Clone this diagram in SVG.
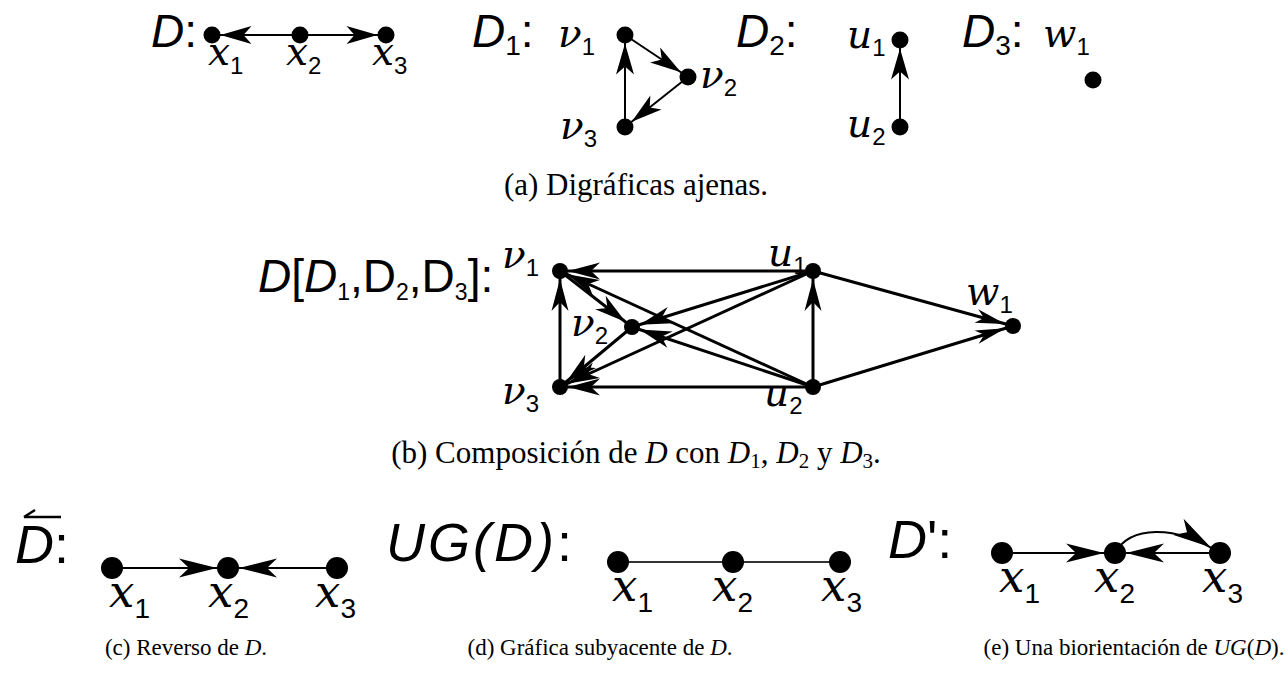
<svg xmlns="http://www.w3.org/2000/svg" width="1286" height="677" viewBox="0 0 1286 677">
<style>
.bg{fill:#fff}
.n{fill:#000}
.lbl{font-family:"DejaVu Serif","Liberation Serif",serif;font-style:italic;font-size:39px;fill:#000}
.lbl2{font-family:"DejaVu Serif","Liberation Serif",serif;font-style:italic;font-size:45px;fill:#000}
.sub{font-family:"Liberation Sans",Arial,sans-serif;font-style:normal;font-size:24px}
.sub2{font-family:"Liberation Sans",Arial,sans-serif;font-style:normal;font-size:28px}
.big{font-family:"Liberation Sans",Arial,sans-serif;font-size:46px;fill:#000}
.big2{font-family:"Liberation Sans",Arial,sans-serif;font-size:54px;fill:#000}
.it{font-style:italic}
.cap{font-family:"Liberation Serif","Times New Roman",serif;font-size:23px;fill:#000}
.capT{font-family:"Liberation Serif","Times New Roman",serif;font-size:31px;fill:#000}
.ea{stroke:#000;stroke-width:2;fill:none}
.eb{stroke:#000;stroke-width:3;fill:none}
.ec{stroke:#000;stroke-width:2;fill:none}
.ed{stroke:#333;stroke-width:2.2;fill:none}
</style>
<defs>
<marker id="ma" viewBox="-40 -12 54 24" markerWidth="54" markerHeight="24" refX="8.5" refY="0" orient="auto" markerUnits="userSpaceOnUse" overflow="visible"><path d="M0,0 L-31,-9 L-23,0 L-31,9 Z" fill="#000"/></marker>
<marker id="mb" viewBox="-40 -12 54 24" markerWidth="54" markerHeight="24" refX="8" refY="0" orient="auto" markerUnits="userSpaceOnUse" overflow="visible"><path d="M0,0 L-32,-8.5 L-23,0 L-32,8.5 Z" fill="#000"/></marker>
<marker id="mw" viewBox="-40 -12 54 24" markerWidth="54" markerHeight="24" refX="8" refY="0" orient="auto" markerUnits="userSpaceOnUse" overflow="visible"><path d="M0,0 L-30,-7 L-22,0 L-30,7 Z" fill="#000"/></marker>
<marker id="mc" viewBox="-46 -12 62 24" markerWidth="62" markerHeight="24" refX="11" refY="0" orient="auto" markerUnits="userSpaceOnUse" overflow="visible"><path d="M0,0 L-38,-9.5 L-28,0 L-38,9.5 Z" fill="#000"/></marker>
</defs>
<rect class="bg" x="0" y="0" width="1286" height="677"/>

<g id="connectors">
  <line class="ea" x1="300" y1="35" x2="212" y2="35" marker-end="url(#ma)"/>
  <line class="ea" x1="300" y1="35" x2="386" y2="35" marker-end="url(#ma)"/>
  <line class="ea" x1="625" y1="35" x2="688" y2="77" marker-end="url(#ma)"/>
  <line class="ea" x1="688" y1="77" x2="625" y2="127" marker-end="url(#ma)"/>
  <line class="ea" x1="625" y1="127" x2="625" y2="35" marker-end="url(#ma)"/>
  <line class="ea" x1="900" y1="127" x2="900" y2="40" marker-end="url(#ma)"/>
  <line class="eb" x1="813" y1="271" x2="560" y2="271" marker-end="url(#mb)"/>
  <line class="eb" x1="813" y1="387" x2="560" y2="387" marker-end="url(#mb)"/>
  <line class="eb" x1="560" y1="387" x2="560" y2="271" marker-end="url(#mb)"/>
  <line class="eb" x1="813" y1="387" x2="813" y2="271" marker-end="url(#mb)"/>
  <line class="eb" x1="560" y1="271" x2="632" y2="327" marker-end="url(#mb)"/>
  <line class="eb" x1="632" y1="327" x2="560" y2="387" marker-end="url(#mb)"/>
  <line class="eb" x1="813" y1="271" x2="632" y2="327" marker-end="url(#mb)"/>
  <line class="eb" x1="813" y1="271" x2="560" y2="387" marker-end="url(#mb)"/>
  <line class="eb" x1="813" y1="387" x2="560" y2="271" marker-end="url(#mb)"/>
  <line class="eb" x1="813" y1="387" x2="632" y2="327" marker-end="url(#mb)"/>
  <line class="eb" x1="813" y1="271" x2="1013" y2="326" marker-end="url(#mw)"/>
  <line class="eb" x1="813" y1="387" x2="1013" y2="326" marker-end="url(#mw)"/>
  <line class="ec" x1="112" y1="568" x2="228" y2="568" marker-end="url(#mc)"/>
  <line class="ec" x1="337" y1="568" x2="228" y2="568" marker-end="url(#mc)"/>
  <line class="ed" x1="618" y1="562" x2="840" y2="562"/>
  <line class="ec" x1="1002" y1="553" x2="1115" y2="553" marker-end="url(#mc)"/>
  <line class="ec" x1="1220" y1="553" x2="1115" y2="553" marker-end="url(#mc)"/>
  <path class="ec" d="M1115,553 C1130,526 1174,524 1220,553" marker-end="url(#mc)"/>
</g>

<g id="label-D"><text class="big" x="151" y="47"><tspan class="it">D</tspan>:</text></g>
<g id="D-x1"><circle class="n" cx="212" cy="35" r="8.5"/><text class="lbl" x="208" y="65">x<tspan class="sub" dy="9">1</tspan></text></g>
<g id="D-x2"><circle class="n" cx="300" cy="35" r="8.5"/><text class="lbl" x="286" y="65">x<tspan class="sub" dy="9">2</tspan></text></g>
<g id="D-x3"><circle class="n" cx="386" cy="35" r="8.5"/><text class="lbl" x="372" y="65">x<tspan class="sub" dy="9">3</tspan></text></g>

<g id="label-D1"><text class="big" x="472" y="47"><tspan class="it">D</tspan><tspan font-size="28" dy="8">1</tspan><tspan dy="-8">:</tspan></text></g>
<g id="D1-v1"><circle class="n" cx="625" cy="35" r="8.5"/><text class="lbl" x="558" y="47">ν<tspan class="sub" dy="8">1</tspan></text></g>
<g id="D1-v2"><circle class="n" cx="688" cy="77" r="8.5"/><text class="lbl" x="700" y="88">ν<tspan class="sub" dy="8">2</tspan></text></g>
<g id="D1-v3"><circle class="n" cx="625" cy="127" r="8.5"/><text class="lbl" x="560" y="139">ν<tspan class="sub" dy="8">3</tspan></text></g>

<g id="label-D2"><text class="big" x="736" y="47"><tspan class="it">D</tspan><tspan font-size="28" dy="8">2</tspan><tspan dy="-8">:</tspan></text></g>
<g id="D2-u1"><circle class="n" cx="900" cy="40" r="8.5"/><text class="lbl" x="847" y="48">u<tspan class="sub" dy="8">1</tspan></text></g>
<g id="D2-u2"><circle class="n" cx="900" cy="127" r="8.5"/><text class="lbl" x="847" y="137">u<tspan class="sub" dy="8">2</tspan></text></g>

<g id="label-D3"><text class="big" x="962" y="47"><tspan class="it">D</tspan><tspan font-size="28" dy="8">3</tspan><tspan dy="-8">:</tspan></text></g>
<g id="D3-w1"><circle class="n" cx="1093" cy="80" r="8.5"/><text class="lbl" x="1043" y="47">w<tspan class="sub" dy="8">1</tspan></text></g>

<g id="caption-a"><text class="capT" x="636" y="195" text-anchor="middle">(a) Digráficas ajenas.</text></g>

<g id="label-comp"><text class="big" x="258" y="292" font-size="35"><tspan class="it">D</tspan>[<tspan class="it">D</tspan><tspan font-size="23" dy="8">1</tspan><tspan dy="-8">,D</tspan><tspan font-size="23" dy="8">2</tspan><tspan dy="-8">,D</tspan><tspan font-size="23" dy="8">3</tspan><tspan dy="-8">]:</tspan></text></g>
<g id="B-v1"><circle class="n" cx="560" cy="271" r="8"/><text class="lbl" x="502" y="268">ν<tspan class="sub" dy="8">1</tspan></text></g>
<g id="B-v2"><circle class="n" cx="632" cy="327" r="8"/><text class="lbl" x="571" y="336">ν<tspan class="sub" dy="8">2</tspan></text></g>
<g id="B-v3"><circle class="n" cx="560" cy="387" r="8"/><text class="lbl" x="502" y="404">ν<tspan class="sub" dy="8">3</tspan></text></g>
<g id="B-u1"><circle class="n" cx="813" cy="271" r="8"/><text class="lbl" x="768" y="266">u<tspan class="sub" dy="8">1</tspan></text></g>
<g id="B-u2"><circle class="n" cx="813" cy="387" r="8"/><text class="lbl" x="764" y="406">u<tspan class="sub" dy="8">2</tspan></text></g>
<g id="B-w1"><circle class="n" cx="1013" cy="326" r="8"/><text class="lbl" x="966" y="305">w<tspan class="sub" dy="8">1</tspan></text></g>

<g id="caption-b"><text class="capT" x="636" y="463" text-anchor="middle">(b) Composición de <tspan font-style="italic">D</tspan> con <tspan font-style="italic">D</tspan><tspan font-size="21" dy="5">1</tspan><tspan dy="-5">, </tspan><tspan font-style="italic">D</tspan><tspan font-size="21" dy="5">2</tspan><tspan dy="-5"> y </tspan><tspan font-style="italic">D</tspan><tspan font-size="21" dy="5">3</tspan><tspan dy="-5">.</tspan></text></g>

<g id="label-Dbar"><text class="big2" x="15" y="563"><tspan class="it">D</tspan>:</text><path d="M24,517 L61,517 M24,517 L35,510" stroke="#000" stroke-width="2.5" fill="none"/></g>
<g id="C-x1"><circle class="n" cx="112" cy="568" r="11"/><text class="lbl2" x="109" y="607">x<tspan class="sub2" dy="11">1</tspan></text></g>
<g id="C-x2"><circle class="n" cx="228" cy="568" r="11"/><text class="lbl2" x="208" y="607">x<tspan class="sub2" dy="11">2</tspan></text></g>
<g id="C-x3"><circle class="n" cx="337" cy="568" r="11"/><text class="lbl2" x="315" y="607">x<tspan class="sub2" dy="11">3</tspan></text></g>
<g id="caption-c"><text class="cap" x="186" y="655" text-anchor="middle">(c) Reverso de <tspan font-style="italic">D</tspan>.</text></g>

<g id="label-UG"><text class="big2" x="386" y="561" font-size="56" letter-spacing="3"><tspan class="it">UG(D)</tspan>:</text></g>
<g id="Dd-x1"><circle class="n" cx="618" cy="562" r="11"/><text class="lbl2" x="612" y="601">x<tspan class="sub2" dy="11">1</tspan></text></g>
<g id="Dd-x2"><circle class="n" cx="733" cy="562" r="11"/><text class="lbl2" x="712" y="601">x<tspan class="sub2" dy="11">2</tspan></text></g>
<g id="Dd-x3"><circle class="n" cx="840" cy="562" r="11"/><text class="lbl2" x="821" y="601">x<tspan class="sub2" dy="11">3</tspan></text></g>
<g id="caption-d"><text class="cap" x="600" y="655" text-anchor="middle">(d) Gráfica subyacente de <tspan font-style="italic">D</tspan>.</text></g>

<g id="label-Dp"><text class="big2" x="888" y="558"><tspan class="it">D</tspan>':</text></g>
<g id="E-x1"><circle class="n" cx="1002" cy="553" r="11"/><text class="lbl2" x="999" y="592">x<tspan class="sub2" dy="11">1</tspan></text></g>
<g id="E-x2"><circle class="n" cx="1115" cy="553" r="11"/><text class="lbl2" x="1094" y="592">x<tspan class="sub2" dy="11">2</tspan></text></g>
<g id="E-x3"><circle class="n" cx="1220" cy="553" r="11"/><text class="lbl2" x="1202" y="592">x<tspan class="sub2" dy="11">3</tspan></text></g>
<g id="caption-e"><text class="cap" x="1134" y="655" text-anchor="middle">(e) Una biorientación de <tspan font-style="italic">UG</tspan>(<tspan font-style="italic">D</tspan>).</text></g>
</svg>
